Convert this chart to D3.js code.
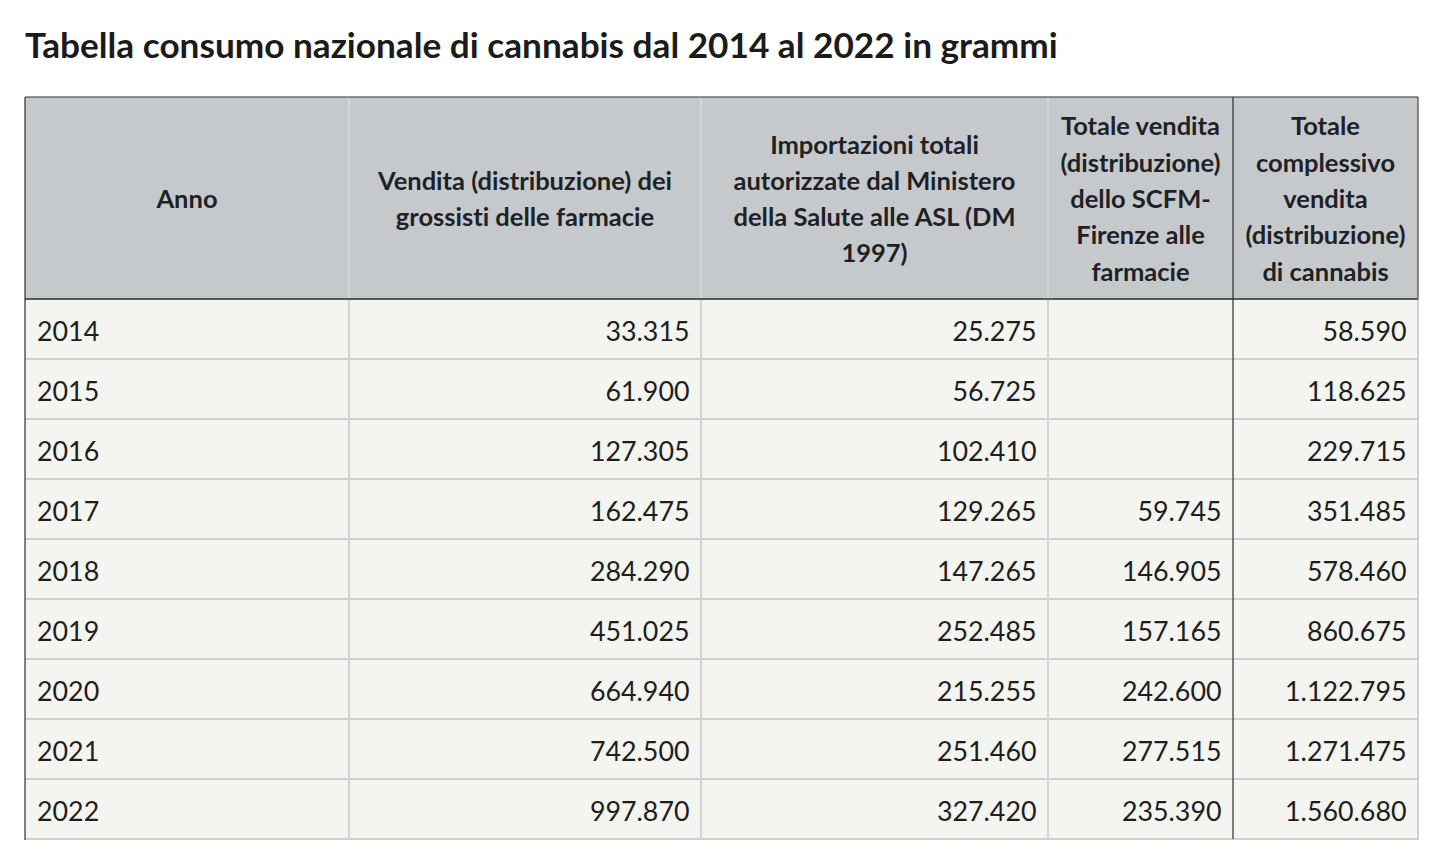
<!DOCTYPE html>
<html>
<head>
<meta charset="utf-8">
<script src="https://cdn.jsdelivr.net/npm/d3@7"></script>
<style>
  html, body { margin: 0; padding: 0; background: #ffffff; }
  svg { display: block; }
  text { font-variant-ligatures: none; font-feature-settings: "liga" 0, "clig" 0; }
</style>
</head>
<body>
<svg id="chart" width="1438" height="862"></svg>
<script>
// ---- data ----
const title = "Tabella consumo nazionale di cannabis dal 2014 al 2022 in grammi";
const years = ["2014", "2015", "2016", "2017", "2018", "2019", "2020", "2021", "2022"];
const columnKeys = ["anno", "grossisti", "importazioni", "scfm", "totale"];
const headerLines = [
  ["Anno"],
  ["Vendita (distribuzione) dei", "grossisti delle farmacie"],
  ["Importazioni totali", "autorizzate dal Ministero", "della Salute alle ASL (DM", "1997)"],
  ["Totale vendita", "(distribuzione)", "dello SCFM-", "Firenze alle", "farmacie"],
  ["Totale", "complessivo", "vendita", "(distribuzione)", "di cannabis"]
];
const grossisti = [33315, 61900, 127305, 162475, 284290, 451025, 664940, 742500, 997870];
const importazioni = [25275, 56725, 102410, 129265, 147265, 252485, 215255, 251460, 327420];
const scfm = [null, null, null, 59745, 146905, 157165, 242600, 277515, 235390];
const totale = [58590, 118625, 229715, 351485, 578460, 860675, 1122795, 1271475, 1560680];

// ---- layout ----
const colEdges = [25, 349, 701, 1048, 1233, 1418];
const headerTop = 97, headerBottom = 299, tableBottom = 839;
const FONT = "Lato, 'Noto Sans', sans-serif";

const svg = d3.select("#chart");
const fmt = d3.formatLocale({ decimal: ",", thousands: ".", grouping: [3], currency: ["€", ""] }).format(",d");

const xLeft = d3.scaleOrdinal().domain(columnKeys).range(colEdges.slice(0, 5));
const xRight = d3.scaleOrdinal().domain(columnKeys).range(colEdges.slice(1));
const y = d3.scaleBand().domain(years).range([headerBottom, tableBottom]).paddingInner(0).paddingOuter(0);

// title
svg.append("text")
  .attr("x", 25).attr("y", 58)
  .attr("font-family", FONT).attr("font-weight", 700).attr("font-size", 35.2)
  .attr("fill", "#1b1b1b")
  .text(title);

// header background
svg.append("rect")
  .attr("x", colEdges[0]).attr("y", headerTop)
  .attr("width", colEdges[5] - colEdges[0]).attr("height", headerBottom - headerTop)
  .attr("fill", "#c6c9cc");

// body background
svg.append("rect")
  .attr("x", colEdges[0]).attr("y", headerBottom)
  .attr("width", colEdges[5] - colEdges[0]).attr("height", tableBottom - headerBottom)
  .attr("fill", "#f4f4f1");

// row separators (light)
svg.append("g").selectAll("line")
  .data(years.slice(1).concat(["__end"]))
  .join("line")
  .attr("x1", colEdges[0]).attr("x2", colEdges[5])
  .attr("y1", d => d === "__end" ? tableBottom : y(d))
  .attr("y2", d => d === "__end" ? tableBottom : y(d))
  .attr("stroke", "#cfcfcf").attr("stroke-width", 2);

// inner vertical separators (light), except between scfm and totale (dark)
svg.append("g").selectAll("line")
  .data(columnKeys.slice(1))
  .join("line")
  .attr("x1", d => xLeft(d)).attr("x2", d => xLeft(d))
  .attr("y1", headerTop).attr("y2", tableBottom)
  .attr("stroke", d => d === "totale" ? "#2e2e2e" : "#d2d4d6")
  .attr("stroke-width", d => d === "totale" ? 1.2 : 2);

// right border: dark in header, light in body
svg.append("line")
  .attr("x1", colEdges[5]).attr("x2", colEdges[5])
  .attr("y1", headerTop).attr("y2", headerBottom)
  .attr("stroke", "#444").attr("stroke-width", 1.2);
svg.append("line")
  .attr("x1", colEdges[5]).attr("x2", colEdges[5])
  .attr("y1", headerBottom).attr("y2", tableBottom + 1)
  .attr("stroke", "#cfcfcf").attr("stroke-width", 2);

// top border, header bottom, left border (dark)
svg.append("line")
  .attr("x1", colEdges[0]).attr("x2", colEdges[5])
  .attr("y1", headerTop).attr("y2", headerTop)
  .attr("stroke", "#2e2e2e").attr("stroke-width", 1.2);
svg.append("line")
  .attr("x1", colEdges[0]).attr("x2", colEdges[5])
  .attr("y1", headerBottom).attr("y2", headerBottom)
  .attr("stroke", "#2e2e2e").attr("stroke-width", 1.5);
svg.append("line")
  .attr("x1", colEdges[0]).attr("x2", colEdges[0])
  .attr("y1", headerTop).attr("y2", tableBottom + 1)
  .attr("stroke", "#2e2e2e").attr("stroke-width", 1.2);

// header text
const lineH = 36.3;
const headerMid = (headerTop + headerBottom) / 2;
const hg = svg.append("g")
  .attr("font-family", FONT).attr("font-weight", 700).attr("font-size", 25.5)
  .attr("fill", "#1e2226").attr("text-anchor", "middle");
columnKeys.forEach((k, i) => {
  const lines = headerLines[i];
  const cx = (xLeft(k) + xRight(k)) / 2;
  hg.append("text")
    .attr("x", cx)
    .selectAll("tspan")
    .data(lines)
    .join("tspan")
    .attr("x", cx)
    .attr("y", (d, j) => headerMid + (j - (lines.length - 1) / 2) * lineH + 10)
    .text(d => d);
});

// body text
const series = { grossisti, importazioni, scfm, totale };
const bg = svg.append("g")
  .attr("font-family", FONT).attr("font-weight", 400).attr("font-size", 26.8)
  .attr("fill", "#1e1e1e");
const rowMid = d => y(d) + y.bandwidth() / 2 + 11.5;

bg.selectAll("text.year")
  .data(years)
  .join("text")
  .attr("class", "year")
  .attr("x", xLeft("anno") + 12)
  .attr("y", d => rowMid(d))
  .text(d => d);

columnKeys.slice(1).forEach(k => {
  bg.selectAll("text." + k)
    .data(years.map((yr, i) => ({ yr, v: series[k][i] })).filter(d => d.v != null))
    .join("text")
    .attr("class", k)
    .attr("x", xRight(k) - 11.5)
    .attr("y", d => rowMid(d.yr))
    .attr("text-anchor", "end")
    .text(d => fmt(d.v));
});
</script>
</body>
</html>
